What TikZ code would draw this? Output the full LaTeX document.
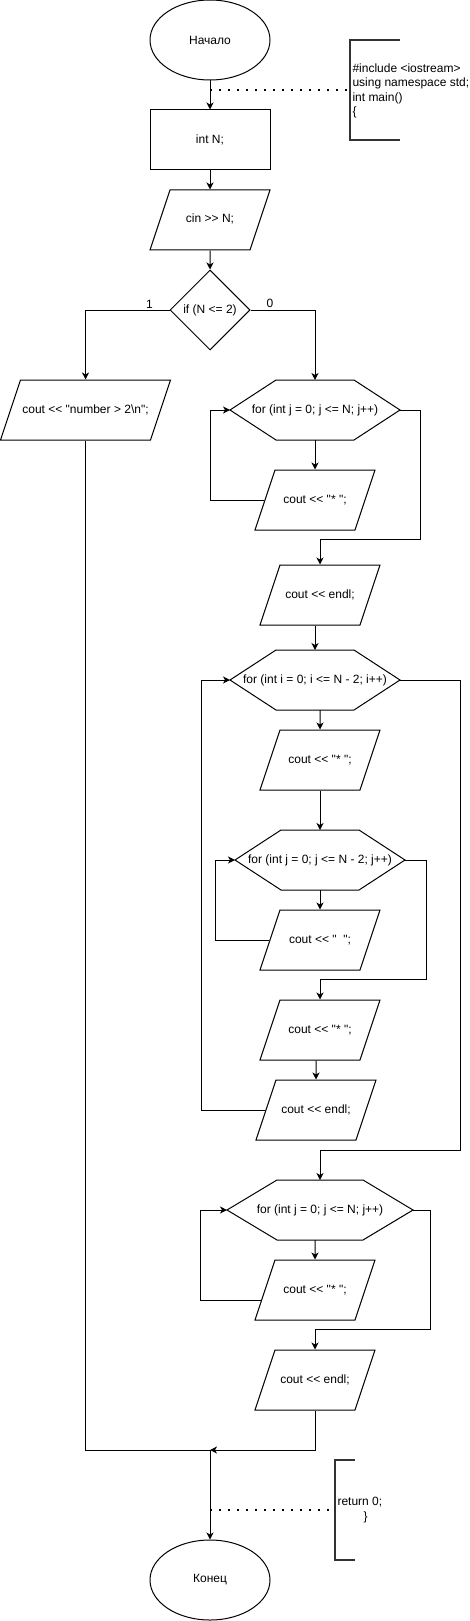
\documentclass[tikz,border=0pt]{standalone}
\usepackage{fontspec}
\setmainfont{Liberation Sans}[Ligatures=TeXOff]
\usetikzlibrary{shapes.geometric,arrows.meta}

\newcommand{\hexframe}[2]{%
  \draw (#1.west) -- ([xshift=#2]#1.north west) -- ([xshift=-#2]#1.north east)
    -- (#1.east) -- ([xshift=-#2]#1.south east) -- ([xshift=#2]#1.south west) -- cycle;}

\begin{document}
\begin{tikzpicture}[x=1pt,y=-1pt,line width=1pt,font=\fontsize{12}{14.4}\selectfont,
    flow/.style={-{Stealth[length=7pt,width=7pt,inset=2pt]}},
    terminal/.style={ellipse,draw,minimum width=120pt,minimum height=80pt,inner sep=0pt},
    process/.style={rectangle,draw,minimum width=120pt,minimum height=60pt,inner sep=0pt},
    io/.style={trapezium,trapezium left angle=71.57,trapezium right angle=108.43,
      trapezium stretches body,draw,minimum width=120pt,inner xsep=0pt,inner ysep=24pt,
      text height=9pt,text depth=3pt},
    decision/.style={diamond,draw,minimum width=80pt,minimum height=80pt,inner sep=0pt},
    loopbox/.style={rectangle,minimum width=170pt,minimum height=60pt,inner sep=0pt,outer sep=0pt},
    note/.style={align=left,anchor=west,inner sep=0pt},
    notebracket/.style={line width=2pt,black!80},
    dotline/.style={line width=1.5pt,dash pattern=on 1.5pt off 7.5pt}]

      \useasboundingbox (0,0) rectangle (470,1621);

      \node[terminal] (start)  at (210,40)   {Начало};
      \node[process]  (decl)   at (210,140)  {int N;};
      \node[io]       (input)  at (210,220)  {cin >> N;};
      \node[decision] (cond)   at (210,310)  {if (N <= 2)};
      \node[io,minimum width=170pt] (msg) at (85.5,410) {cout << "number > 2\textbackslash n";};
      \node[loopbox]  (loopA)  at (315,410)  {for (int j = 0; j <= N; j++)};
      \node[io]       (starA)  at (315,500)  {cout << "* ";};
      \node[io]       (endlA)  at (320,595)  {cout << endl;};
      \node[loopbox]  (loopB)  at (315,680)  {for (int i = 0; i <= N - 2; i++)};
      \node[io]       (starB)  at (320,760)  {cout << "* ";};
      \node[loopbox]  (loopC)  at (320,860)  {for (int j = 0; j <= N - 2; j++)};
      \node[io]       (spaceC) at (320,940)  {cout << "\ \ ";};
      \node[io]       (starD)  at (320,1030) {cout << "* ";};
      \node[io]       (endlB)  at (316,1110) {cout << endl;};
      \node[loopbox,minimum width=186pt] (loopD) at (320,1210) {for (int j = 0; j <= N; j++)};
      \node[io]       (starE)  at (315,1290) {cout << "* ";};
      \node[io]       (endlC)  at (315,1380) {cout << endl;};
      \node[terminal] (finish) at (210,1580) {Конец};

      \hexframe{loopA}{46pt}
      \hexframe{loopB}{46pt}
      \hexframe{loopC}{46pt}
      \hexframe{loopD}{50pt}

      \node[note] (incl) at (352,91) {\#include <iostream>\\using namespace std;\\int main()\\\{};
      \node[note] (ret)  at (337,1510) {return 0;\\\hspace*{26pt}\}};

      \coordinate (brA)   at (350,40);
      \coordinate (brB)   at (335,1460);
      \coordinate (tapA)  at (210,90);
      \coordinate (tapB)  at (210,1510);
      \coordinate (merge) at (210,1450);

      \draw[notebracket] ([xshift=50pt]brA) -- (brA) -- ++(0,100) -- ++(50,0);
      \draw[notebracket] ([xshift=20pt]brB) -- (brB) -- ++(0,100) -- ++(20,0);
      \draw[dotline] (tapA) -- (tapA -| brA);
      \draw[dotline] (tapB) -- (tapB -| brB);

      \path (start) edge[flow] (decl)
            (decl)  edge[flow] (input)
            (input) edge[flow] (cond);
      \draw[flow] (cond.west) -| node[pos=0.12,above,inner sep=1.5pt] {1} (msg.north);
      \draw[flow] (cond.east) -| node[pos=0.15,above,inner sep=1.5pt] {0} (loopA.north);

      \draw[flow] (loopA) -- (loopA |- starA.north);
      \draw[flow] (starA.west) -| ([xshift=-20pt]loopA.west) -- (loopA.west);
      \draw[flow] (loopA.east) -- ++(20,0) |- ([yshift=25pt]endlA.north) -- (endlA.north);
      \draw[flow] (endlA.south -| loopB) -- (loopB.north);

      \draw[flow] (loopB.south -| starB) -- (starB.north);
      \path (starB) edge[flow] (loopC)
            (loopC) edge[flow] (spaceC);
      \draw[flow] (spaceC.west) -| ([xshift=-20pt]loopC.west) -- (loopC.west);
      \draw[flow] (loopC.east) -- ++(21,0) |- ([yshift=20pt]starD.north) -- (starD.north);
      \draw[flow] (starD.south -| endlB) -- (endlB.north);
      \draw[flow] (endlB.west) -| ([xshift=-29pt]loopB.west) -- (loopB.west);
      \draw[flow] (loopB.east) -- ++(60,0) |- ([yshift=30pt]loopD.north) -- (loopD.north);

      \draw[flow] (loopD.south -| starE) -- (starE.north);
      \draw[flow] ([shift={(-3.3pt,-10pt)}]starE.west) -| ([xshift=-27pt]loopD.west) -- (loopD.west);
      \draw[flow] (loopD.east) -- ++(17,0) |- ([yshift=20pt]endlC.north) -- (endlC.north);

      \draw[flow] (endlC) |- (merge);
      \draw (msg) |- (merge);
      \draw[flow] (merge) -- (finish);

    \end{tikzpicture}
\end{document}
